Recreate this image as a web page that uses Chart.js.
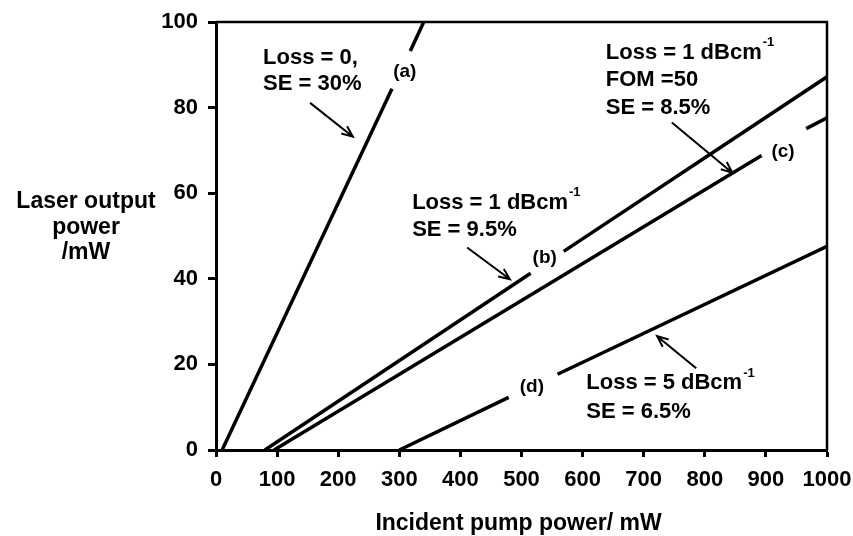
<!DOCTYPE html>
<html>
<head>
<meta charset="utf-8">
<script src="https://cdn.jsdelivr.net/npm/chart.js@4/dist/chart.umd.min.js"></script>
<style>
  body { margin: 0; background: #fff; }
  canvas { display: block; }
</style>
</head>
<body>
<canvas id="myChart" width="853" height="536"></canvas>
<script>
// line segments, null y = gap where the curve label sits
const aX = [10, 288, 303, 318, 340];
const aY = [0, 84.4, null, 93.2, 100];
const bX = [80, 515, 540, 569, 1000];
const bY = [0, 41.3, null, 46.4, 87.2];
const cX = [95, 893, 930, 966, 1000];
const cY = [0, 68.8, null, 75.1, 77.6];
const dX = [300, 479, 520, 559, 1000];
const dY = [0, 12.3, null, 17.7, 47.6];

const xTicks = [0, 100, 200, 300, 400, 500, 600, 700, 800, 900, 1000];
const yTicks = [0, 20, 40, 60, 80, 100];

// annotation texts: [x, y, text, superscript]
const notes = [
  [77, 91.6, "Loss = 0,", ""],
  [77, 85.5, "SE = 30%", ""],
  [321, 57.8, "Loss = 1 dBcm", "-1"],
  [321, 51.3, "SE = 9.5%", ""],
  [638, 92.8, "Loss = 1 dBcm", "-1"],
  [638, 86.5, "FOM =50", ""],
  [638, 80.0, "SE = 8.5%", ""],
  [606, 15.6, "Loss = 5 dBcm", "-1"],
  [606, 8.9, "SE = 6.5%", ""],
];
const curveLabels = [
  [309, 88.3, "(a)"],
  [538, 44.8, "(b)"],
  [928, 69.7, "(c)"],
  [517, 14.7, "(d)"],
];
// arrows: from [x, y] to [x, y]
const arrows = [
  [154, 81.1, 224, 73.2],
  [411, 47.3, 481, 39.9],
  [746, 76.5, 845, 64.8],
  [786, 19.1, 722, 26.6],
];

const FONT = "Liberation Sans";
Chart.defaults.font.family = FONT;
Chart.defaults.color = "#000";

const toPoints = (xs, ys) => xs.map((x, i) => ({ x: x, y: ys[i] }));

const lineStyle = {
  borderColor: "#000",
  borderWidth: 3.5,
  pointRadius: 0,
  tension: 0,
  spanGaps: false,
  fill: false,
};

const extras = {
  id: "extras",
  afterDraw(chart) {
    const ctx = chart.ctx;
    const xs = chart.scales.x;
    const ys = chart.scales.y;
    const area = chart.chartArea;
    ctx.save();

    // top and right frame
    ctx.strokeStyle = "#000";
    ctx.lineWidth = 2.5;
    ctx.beginPath();
    ctx.moveTo(area.left, area.top);
    ctx.lineTo(area.right, area.top);
    ctx.lineTo(area.right, area.bottom);
    ctx.stroke();

    ctx.fillStyle = "#000";
    ctx.textBaseline = "middle";

    notes.forEach(([x, y, t, sup]) => {
      const px = xs.getPixelForValue(x);
      const py = ys.getPixelForValue(y);
      ctx.font = "bold 22px '" + FONT + "'";
      ctx.textAlign = "left";
      ctx.fillText(t, px, py);
      if (sup) {
        const w = ctx.measureText(t).width;
        ctx.font = "bold 13px '" + FONT + "'";
        ctx.fillText(sup, px + w + 1, py - 10);
      }
    });

    ctx.font = "bold 19px '" + FONT + "'";
    ctx.textAlign = "center";
    curveLabels.forEach(([x, y, t]) => {
      ctx.fillText(t, xs.getPixelForValue(x), ys.getPixelForValue(y));
    });

    ctx.lineWidth = 2;
    arrows.forEach(([x1, y1, x2, y2]) => {
      const p1x = xs.getPixelForValue(x1), p1y = ys.getPixelForValue(y1);
      const p2x = xs.getPixelForValue(x2), p2y = ys.getPixelForValue(y2);
      const ang = Math.atan2(p2y - p1y, p2x - p1x);
      const head = 12;
      ctx.beginPath();
      ctx.moveTo(p1x, p1y);
      ctx.lineTo(p2x, p2y);
      ctx.moveTo(p2x - head * Math.cos(ang - 0.4), p2y - head * Math.sin(ang - 0.4));
      ctx.lineTo(p2x, p2y);
      ctx.lineTo(p2x - head * Math.cos(ang + 0.4), p2y - head * Math.sin(ang + 0.4));
      ctx.stroke();
    });

    // axis titles
    ctx.font = "bold 23px '" + FONT + "'";
    ctx.textAlign = "center";
    ctx.fillText("Laser output", 86, 202);
    ctx.fillText("power", 86, 228);
    ctx.fillText("/mW", 86, 253);
    ctx.fillText("Incident pump power/ mW", (area.left + area.right) / 2 - 3, 524);

    ctx.restore();
  },
};

const config = {
  type: "line",
  data: {
    datasets: [
      { label: "(a)", data: toPoints(aX, aY), ...lineStyle },
      { label: "(b)", data: toPoints(bX, bY), ...lineStyle },
      { label: "(c)", data: toPoints(cX, cY), ...lineStyle },
      { label: "(d)", data: toPoints(dX, dY), ...lineStyle },
    ],
  },
  options: {
    responsive: false,
    animation: false,
    layout: {
      padding: { top: 22, right: 26, left: 0, bottom: 0 },
    },
    plugins: {
      legend: { display: false },
      tooltip: { enabled: false },
    },
    scales: {
      x: {
        type: "linear",
        min: 0,
        max: 1000,
        afterBuildTicks: (s) => {
          s.ticks = xTicks.map((v) => ({ value: v }));
        },
        afterFit: (s) => {
          s.height = 86;
          s.paddingLeft = 0;
          s.paddingRight = 0;
        },
        ticks: {
          font: { size: 22, weight: "bold" },
          color: "#000",
          padding: 10,
          maxRotation: 0,
          autoSkip: false,
          callback: (v) => String(v),
        },
        grid: {
          drawOnChartArea: false,
          drawTicks: true,
          tickLength: 7,
          tickWidth: 3,
          tickColor: "#000",
        },
        border: { display: true, width: 3, color: "#000" },
      },
      y: {
        min: 0,
        max: 100,
        afterBuildTicks: (s) => {
          s.ticks = yTicks.map((v) => ({ value: v }));
        },
        afterFit: (s) => {
          s.width = 216;
          s.paddingTop = 0;
          s.paddingBottom = 0;
        },
        ticks: {
          font: { size: 22, weight: "bold" },
          color: "#000",
          padding: 10,
          callback: (v) => String(v),
        },
        grid: {
          drawOnChartArea: false,
          drawTicks: true,
          tickLength: 8,
          tickWidth: 3,
          tickColor: "#000",
        },
        border: { display: true, width: 3, color: "#000" },
      },
    },
  },
  plugins: [extras],
};

const myChart = new Chart(document.getElementById("myChart"), config);
</script>
</body>
</html>
